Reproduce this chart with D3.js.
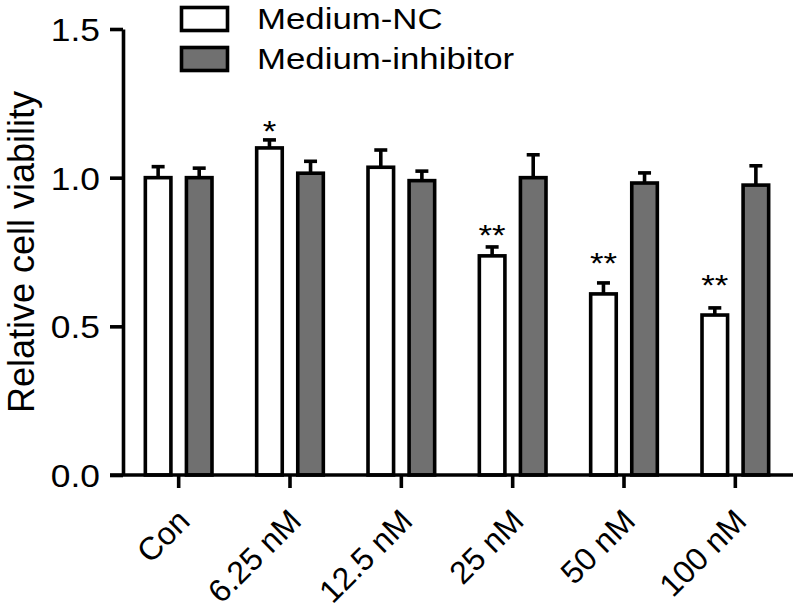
<!DOCTYPE html>
<html>
<head>
<meta charset="utf-8">
<script src="https://cdn.jsdelivr.net/npm/d3@7/dist/d3.min.js"></script>
<style>
  html, body { margin: 0; padding: 0; background: #fff; }
  svg { display: block; }
  text { font-family: "Liberation Sans", Arial, Helvetica, sans-serif; fill: #000; }
</style>
</head>
<body>
<div id="chart"></div>
<script>
// ---- data ----
const categories = ["Con", "6.25 nM", "12.5 nM", "25 nM", "50 nM", "100 nM"];
const seriesNames = ["Medium-NC", "Medium-inhibitor"];
const ncMean  = [1.00, 1.10, 1.035, 0.737, 0.609, 0.538];
const ncSD    = [0.037, 0.027, 0.058, 0.030, 0.037, 0.024];
const inhMean = [1.00, 1.015, 0.99, 1.00, 0.982, 0.975];
const inhSD   = [0.032, 0.040, 0.032, 0.077, 0.034, 0.065];
const ncSig   = ["", "*", "", "**", "**", "**"];
const ncSigLevel = [null, 1.123, null, 0.774, 0.679, 0.605];
const yTicks = [0.0, 0.5, 1.0, 1.5];
const yTitle = "Relative cell viability";

// ---- layout ----
const W = 800, H = 614;
const SX = 1.16;          // horizontal glyph stretch seen in reference
const SW = 3.6;           // stroke width
const fills = ["#ffffff", "#707070"];

const svg = d3.select("#chart").append("svg").attr("width", W).attr("height", H);

const y = d3.scaleLinear().domain([0, 1.5]).range([475, 29]);
const x = d3.scaleBand().domain(categories).range([123, 791]).paddingInner(0).paddingOuter(0);
const xs = d3.scaleBand().domain(seriesNames).range([0, x.bandwidth()]).paddingInner(0.29).paddingOuter(0.5);

const rows = categories.map((c, i) => ({
  cat: c,
  vals: [
    { s: seriesNames[0], m: ncMean[i], sd: ncSD[i], fill: fills[0] },
    { s: seriesNames[1], m: inhMean[i], sd: inhSD[i], fill: fills[1] }
  ]
}));

// bars
const g = svg.append("g");
rows.forEach(r => {
  r.vals.forEach(v => {
    const x0 = x(r.cat) + xs(v.s);
    const cx = x0 + xs.bandwidth() / 2;
    // error bar (upper only)
    g.append("line").attr("x1", cx).attr("x2", cx)
      .attr("y1", y(v.m)).attr("y2", y(v.m + v.sd))
      .attr("stroke", "#000").attr("stroke-width", SW);
    g.append("line").attr("x1", cx - 6.5).attr("x2", cx + 6.5)
      .attr("y1", y(v.m + v.sd)).attr("y2", y(v.m + v.sd))
      .attr("stroke", "#000").attr("stroke-width", SW);
    g.append("rect")
      .attr("x", x0 + SW / 2).attr("width", xs.bandwidth() - SW)
      .attr("y", y(v.m)).attr("height", y(0) - y(v.m))
      .attr("fill", v.fill).attr("stroke", "#000").attr("stroke-width", SW);
  });
});

// significance stars
categories.forEach((c, i) => {
  if (!ncSig[i]) return;
  const cx = x(c) + xs(seriesNames[0]) + xs.bandwidth() / 2;
  svg.append("text")
    .attr("transform", `translate(${cx},${y(ncSigLevel[i])}) scale(${SX},1)`)
    .attr("text-anchor", "middle")
    .style("font-size", "30px")
    .text(ncSig[i]);
});

// y axis
const yAxis = svg.append("g").attr("transform", "translate(123,0)")
  .call(d3.axisLeft(y).tickValues(yTicks).tickFormat(d3.format(".1f")).tickSize(13).tickSizeOuter(0));
yAxis.select(".domain").attr("stroke-width", SW).attr("stroke", "#000");
yAxis.selectAll(".tick line").attr("stroke-width", SW).attr("stroke", "#000");
yAxis.selectAll(".tick text")
  .attr("x", null).attr("dy", null)
  .attr("transform", `translate(-23,0) scale(${SX},1)`)
  .attr("dy", "0.38em")
  .style("font-size", "30.5px").style("font-family", "Liberation Sans, Arial, sans-serif").attr("fill", "#000");

// x axis
const xAxis = svg.append("g").attr("transform", `translate(0,${y(0)})`)
  .call(d3.axisBottom(x).tickSize(13).tickSizeOuter(0));
xAxis.select(".domain").attr("d", `M110,0H793`).attr("stroke-width", SW).attr("stroke", "#000");
xAxis.selectAll(".tick line").attr("stroke-width", SW).attr("stroke", "#000");
xAxis.selectAll(".tick text")
  .attr("y", null).attr("dy", null)
  .attr("text-anchor", "end")
  .attr("transform", `translate(13,48) rotate(-45)`)
  .style("font-size", "32px").style("font-family", "Liberation Sans, Arial, sans-serif").attr("fill", "#000");

// y title
svg.append("text")
  .attr("transform", `translate(33.5,252) rotate(-90)`)
  .attr("text-anchor", "middle")
  .style("font-size", "36px")
  .text(yTitle);

// legend
const leg = svg.append("g");
seriesNames.forEach((s, i) => {
  const cy = 19 + i * 40;
  leg.append("rect")
    .attr("x", 181.5).attr("y", cy - 11.5).attr("width", 46).attr("height", 23)
    .attr("fill", fills[i]).attr("stroke", "#000").attr("stroke-width", SW);
  leg.append("text")
    .attr("transform", `translate(257,${cy + 9.5}) scale(${SX},1)`)
    .style("font-size", "30px")
    .text(s);
});
</script>
</body>
</html>
